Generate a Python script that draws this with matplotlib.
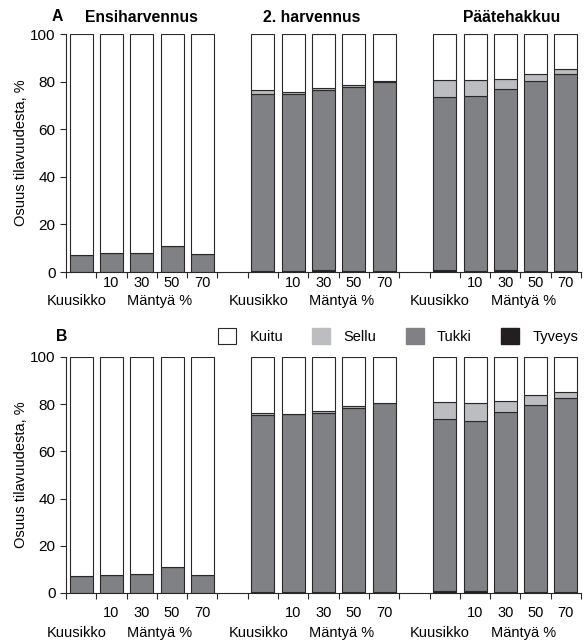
import numpy as np
import matplotlib.pyplot as plt
from matplotlib.patches import Patch

plt.rcParams['font.family'] = ['Liberation Sans', 'DejaVu Sans']
plt.rcParams['font.size'] = 10.5

# 17 slots: 3 groups of 5 bars with one empty slot between groups
groups = ['Ensiharvennus', '2. harvennus', 'Päätehakkuu']
bar_labels = ['', '10', '30', '50', '70']
slot_pos = [0, 1, 2, 3, 4, 6, 7, 8, 9, 10, 12, 13, 14, 15, 16]

# panel A (order per group: Kuusikko, 10, 30, 50, 70)
tyveys_a = [0, 0, 0, 0, 0,
            0.5, 0.3, 1.0, 0.3, 0.3,
            1.0, 0.6, 1.0, 0.6, 0.4]
tukki_a = [7, 8, 8, 11, 7.4,
           74.5, 74.7, 75.5, 77.3, 79.5,
           72.7, 73.4, 75.8, 79.7, 82.8]
sellu_a = [0, 0, 0, 0, 0,
           1.5, 0.8, 0.7, 0.9, 0.3,
           7.0, 6.7, 4.3, 2.9, 2.1]

# panel B
tyveys_b = [0, 0, 0, 0, 0,
            0.5, 0.5, 0.3, 0.3, 0.3,
            1.0, 1.0, 0.5, 0.5, 0.3]
tukki_b = [7, 7.6, 8.2, 11.2, 7.6,
           74.9, 75.2, 75.8, 78.0, 80.1,
           72.6, 72.0, 76.1, 79.2, 82.5]
sellu_b = [0, 0, 0, 0, 0,
           1.0, 0.3, 1.1, 0.8, 0.2,
           7.2, 7.4, 4.8, 4.2, 2.5]

c_kuitu = 'white'
c_sellu = '#bcbdc1'
c_tukki = '#808185'
c_tyveys = '#231f20'
edge = '#2a2728'

fig = plt.figure(figsize=(5.88, 6.44), dpi=100)
ax_a = fig.add_axes([0.1122, 0.5776, 0.876, 0.3696])
ax_b = fig.add_axes([0.1122, 0.0792, 0.876, 0.3665])


def draw(ax, tyveys, tukki, sellu, y_num, y_name):
    x = np.array(slot_pos)
    ty = np.array(tyveys)
    tu = np.array(tukki)
    se = np.array(sellu)
    ku = 100 - ty - tu - se
    w = 0.76
    kw = dict(width=w, edgecolor=edge, linewidth=0.8)
    ax.bar(x, ty, color=c_tyveys, **kw)
    ax.bar(x, tu, bottom=ty, color=c_tukki, **kw)
    ax.bar(x, se, bottom=ty + tu, color=c_sellu, **kw)
    ax.bar(x, ku, bottom=ty + tu + se, color=c_kuitu, **kw)

    ax.set_xlim(-0.5, 16.5)
    ax.set_ylim(0, 100)
    ax.set_yticks(range(0, 101, 20))
    ax.set_ylabel('Osuus tilavuudesta, %', fontsize=10.5)
    ax.yaxis.set_label_coords(-0.073, 0.5)
    ax.spines['top'].set_visible(False)
    ax.spines['right'].set_visible(False)
    ax.spines['left'].set_color(edge)
    ax.spines['bottom'].set_color(edge)
    ax.tick_params(axis='y', direction='out', length=4, color=edge, labelsize=11)

    ax.set_xticks(np.arange(-0.5, 17, 1.0))
    ax.set_xticklabels([])
    ax.tick_params(axis='x', direction='out', length=4, color=edge)

    trans = ax.get_xaxis_transform()
    for g in range(3):
        start = g * 6
        for k in range(1, 5):
            ax.text(start + k, y_num, bar_labels[k], transform=trans,
                    ha='center', va='center', fontsize=10.5)
        ax.text(start - 0.15, y_name, 'Kuusikko', transform=trans,
                ha='center', va='center', fontsize=10.5)
        ax.text(start + 2.6, y_name, 'Mäntyä %', transform=trans,
                ha='center', va='center', fontsize=10.5)


draw(ax_a, tyveys_a, tukki_a, sellu_a, -0.048, -0.12)
draw(ax_b, tyveys_b, tukki_b, sellu_b, -0.085, -0.17)

# group titles for panel A
title_x = [2, 7.6, 14.2]
for g, name in enumerate(groups):
    ax_a.text(title_x[g], 1.07, name, transform=ax_a.get_xaxis_transform(),
              ha='center', va='center', fontsize=11.3, fontweight='bold')

fig.text(0.097, 0.974, 'A', ha='center', va='center', fontsize=11.3, fontweight='bold')
fig.text(0.105, 0.478, 'B', ha='center', va='center', fontsize=11.3, fontweight='bold')

handles = [Patch(facecolor=c_kuitu, edgecolor=edge, linewidth=0.8),
           Patch(facecolor=c_sellu, edgecolor=c_sellu),
           Patch(facecolor=c_tukki, edgecolor=c_tukki),
           Patch(facecolor=c_tyveys, edgecolor=c_tyveys)]
fig.legend(handles, ['Kuitu', 'Sellu', 'Tukki', 'Tyveys'], ncol=4,
           loc='center', bbox_to_anchor=(0.677, 0.478), frameon=False,
           handlelength=1.25, handleheight=1.25, handletextpad=0.9,
           columnspacing=2.0, fontsize=10.5, borderaxespad=0, borderpad=0)

fig.savefig('out.png', dpi=100)
